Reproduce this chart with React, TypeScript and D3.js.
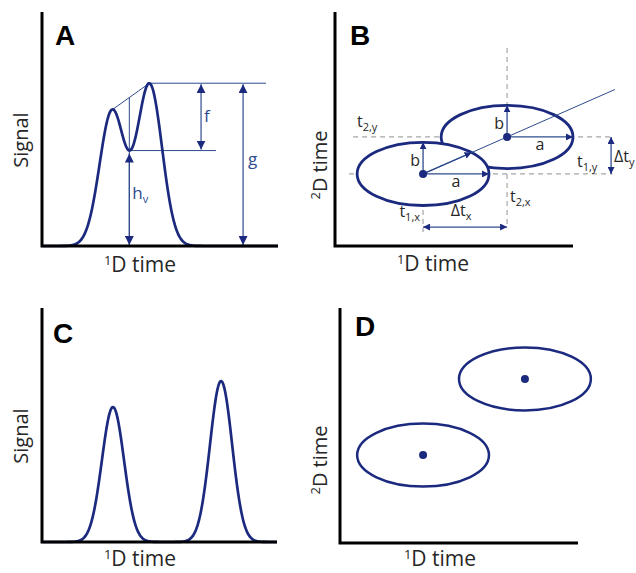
import React from 'react'
import * as d3 from 'd3'

// panel A: two co-eluting peaks (1D time units 0-100, signal units 0-100)
const peakCentersA = [29.7, 45.6]
const peakHeightsA = [57.6, 68.9]
const peakSigmasA = [5.3, 5.3]

// panel C: the same two peaks, resolved
const peakCentersC = [30.2, 76.2]
const peakHeightsC = [57.7, 68.8]
const peakSigmasC = [4.7, 4.7]

// panel B: two spots in the 2D plane (t1 = 1D time, t2 = 2D time), half axes a, b
const spotT1B = [37.0, 72.3]
const spotT2B = [30.8, 46.6]
const spotAB = [27.7, 27.7]
const spotBB = [13.5, 13.5]

// panel D: resolved spots
const spotT1D = [34.9, 77.7]
const spotT2D = [37.4, 69.8]
const spotAD = [27.7, 27.7]
const spotBD = [13.4, 13.4]

const navy = '#1b2a7e'
const thin = '#2e4a8e'
const grey = '#a6a6a6'
const ink = '#262626'
const font = '"Open Sans", "Noto Sans", sans-serif'

function signal(t, centers, heights, sigmas) {
  return d3.sum(centers, (c, i) => heights[i] * Math.exp(-((t - c) ** 2) / (2 * sigmas[i] ** 2)))
}

function sampleCurve(centers, heights, sigmas) {
  return d3.range(0, 100.001, 0.25).map((t) => ({ t, s: signal(t, centers, heights, sigmas) }))
}

function Axes({ x, y }) {
  const [x0, x1] = x.range()
  const [yb, yt] = y.range()
  return <path d={`M${x0},${yt}V${yb}H${x1}`} fill="none" stroke="#000" strokeWidth={3} />
}

function XTitle({ cx, y }) {
  return (
    <text x={cx} y={y} textAnchor="middle" fontFamily={font} fontSize={21} fill={ink}>
      <tspan fontSize={13} dy={-7}>1</tspan>
      <tspan dy={7}>D time</tspan>
    </text>
  )
}

function YTitle({ x, cy, sup, label }) {
  return (
    <text transform={`translate(${x},${cy}) rotate(-90)`} textAnchor="middle" fontFamily={font} fontSize={20} fill={ink}>
      {sup ? <tspan fontSize={13} dy={-7}>{sup}</tspan> : null}
      <tspan dy={sup ? 7 : 0}>{label}</tspan>
    </text>
  )
}

function PanelLetter({ x, y, children }) {
  return (
    <text x={x} y={y} fontFamily='"Liberation Sans", Arial, sans-serif' fontWeight="bold" fontSize={28} fill="#000">
      {children}
    </text>
  )
}

function Sub({ x, y, main, sub, anchor = 'start', fill = ink, size = 16 }) {
  return (
    <text x={x} y={y} textAnchor={anchor} fontFamily={font} fontSize={size} fill={fill}>
      <tspan>{main}</tspan>
      <tspan fontSize={11} dy={4}>{sub}</tspan>
    </text>
  )
}

function PanelA() {
  const x = d3.scaleLinear().domain([0, 100]).range([42, 278])
  const y = d3.scaleLinear().domain([0, 100]).range([246, 12])
  const pts = sampleCurve(peakCentersA, peakHeightsA, peakSigmasA)
  const line = d3.line().x((d) => x(d.t)).y((d) => y(d.s)).curve(d3.curveBasis)

  // local maxima and the valley between them
  const maxima = pts.filter((d, i) => i > 0 && i < pts.length - 1 && d.s > pts[i - 1].s && d.s >= pts[i + 1].s)
  const p1 = maxima[0]
  const p2 = maxima[1]
  const valley = d3.least(pts.filter((d) => d.t > p1.t && d.t < p2.t), (d) => d.s)
  const tangentAt = (t) => p1.s + ((t - p1.t) / (p2.t - p1.t)) * (p2.s - p1.s)

  const fArrowX = 67.4
  const gArrowX = 85.2
  const valleyLineEnd = 73.7
  const topLineEnd = 94.9

  return (
    <g>
      <path d={`M${x(p1.t)},${y(p1.s)}L${x(p2.t)},${y(p2.s)}`} stroke={thin} strokeWidth={1} />
      <path d={`M${x(valley.t)},${y(tangentAt(valley.t))}V${y(0)}`} stroke={thin} strokeWidth={1} />
      <path d={`M${x(p2.t)},${y(p2.s)}H${x(topLineEnd)}`} stroke={thin} strokeWidth={1} />
      <path d={`M${x(valley.t)},${y(valley.s)}H${x(valleyLineEnd)}`} stroke={thin} strokeWidth={1} />
      <line x1={x(valley.t)} x2={x(valley.t)} y1={y(valley.s) + 3} y2={y(0) - 1} stroke={thin} strokeWidth={1.2}
        markerStart="url(#headA)" markerEnd="url(#headA)" />
      <line x1={x(fArrowX)} x2={x(fArrowX)} y1={y(p2.s) + 1} y2={y(valley.s) - 1} stroke={thin} strokeWidth={1.2}
        markerStart="url(#headA)" markerEnd="url(#headA)" />
      <line x1={x(gArrowX)} x2={x(gArrowX)} y1={y(p2.s) + 1} y2={y(0) - 1} stroke={thin} strokeWidth={1.2}
        markerStart="url(#headA)" markerEnd="url(#headA)" />
      <path d={line(pts)} fill="none" stroke={navy} strokeWidth={2.7} />
      <Axes x={x} y={y} />
      <text x={x(fArrowX) + 3} y={122} fontFamily={font} fontSize={17} fill={thin}>f</text>
      <text x={x(gArrowX) + 5} y={165} fontFamily={font} fontSize={17} fill={thin}>g</text>
      <Sub x={x(valley.t) + 3} y={199} main="h" sub="v" fill={thin} size={17} />
      <PanelLetter x={55} y={45}>A</PanelLetter>
      <YTitle x={28} cy={140} label="Signal" />
      <XTitle cx={140} y={272} />
    </g>
  )
}

function PanelC() {
  const x = d3.scaleLinear().domain([0, 100]).range([42, 277])
  const y = d3.scaleLinear().domain([0, 100]).range([542, 308])
  const pts = sampleCurve(peakCentersC, peakHeightsC, peakSigmasC)
  const line = d3.line().x((d) => x(d.t)).y((d) => y(d.s)).curve(d3.curveBasis)
  return (
    <g>
      <path d={line(pts)} fill="none" stroke={navy} strokeWidth={2.7} />
      <Axes x={x} y={y} />
      <PanelLetter x={53} y={343}>C</PanelLetter>
      <YTitle x={28} cy={436} label="Signal" />
      <XTitle cx={140} y={566} />
    </g>
  )
}

function PanelB() {
  const x = d3.scaleLinear().domain([0, 100]).range([335, 573])
  const y = d3.scaleLinear().domain([0, 100]).range([246, 12])
  const [c1x, c2x] = spotT1B.map((v) => x(v))
  const [c1y, c2y] = spotT2B.map((v) => y(v))
  const rx = spotAB.map((a, i) => x(spotT1B[i] + a) - x(spotT1B[i]))
  const ry = spotBB.map((b, i) => y(spotT2B[i]) - y(spotT2B[i] + b))

  // diagonal through both centres, and where it leaves spot 1
  const dx = c2x - c1x
  const dy = c2y - c1y
  const k = 1 / Math.sqrt((dx / rx[0]) ** 2 + (dy / ry[0]) ** 2)
  const diagEnd = 117.6
  const slope = (spotT2B[1] - spotT2B[0]) / (spotT1B[1] - spotT1B[0])

  const dashEnd = 116.5
  const dtyX = 116
  const dtxY = 8.1

  // spot 2 first so that spot 1 sits on top of it
  const order = [1, 0]

  return (
    <g>
      <g stroke={grey} strokeWidth={1.2} strokeDasharray="5,4" fill="none">
        <path d={`M${x(7.6)},${c2y}H${x(dashEnd)}`} />
        <path d={`M${x(5.9)},${c1y}H${x(dashEnd)}`} />
        <path d={`M${c2x},${y(84.6)}V${y(7.7)}`} />
        <path d={`M${c1x},${c1y}V${y(6.0)}`} />
      </g>
      {order.map((i) => (
        <ellipse key={i} cx={x(spotT1B[i])} cy={y(spotT2B[i])} rx={rx[i]} ry={ry[i]} fill="#fff" stroke={navy} strokeWidth={2.8} />
      ))}
      <line x1={c1x} y1={c1y} x2={x(diagEnd)} y2={y(spotT2B[0] + slope * (diagEnd - spotT1B[0]))} stroke={thin} strokeWidth={1} />
      {spotT1B.map((_, i) => (
        <g key={i} stroke={thin} strokeWidth={1.3}>
          <line x1={x(spotT1B[i])} y1={y(spotT2B[i])} x2={x(spotT1B[i]) + rx[i]} y2={y(spotT2B[i])} markerEnd="url(#headB)" />
          <line x1={x(spotT1B[i])} y1={y(spotT2B[i])} x2={x(spotT1B[i])} y2={y(spotT2B[i]) - ry[i]} markerEnd="url(#headB)" />
        </g>
      ))}
      <line x1={c1x} y1={c1y} x2={c1x + k * dx} y2={c1y + k * dy} stroke={thin} strokeWidth={1.3} markerEnd="url(#headB)" />
      <line x1={c1x} y1={y(dtxY)} x2={c2x} y2={y(dtxY)} stroke={thin} strokeWidth={1.3} markerStart="url(#headB)" markerEnd="url(#headB)" />
      <line x1={x(dtyX)} y1={c2y} x2={x(dtyX)} y2={c1y} stroke={thin} strokeWidth={1.3} markerStart="url(#headB)" markerEnd="url(#headB)" />
      {spotT1B.map((_, i) => (
        <circle key={i} cx={x(spotT1B[i])} cy={y(spotT2B[i])} r={4} fill={navy} />
      ))}
      {spotT1B.map((_, i) => (
        <g key={i} fontFamily={font} fontSize={16} fill={ink}>
          <text x={x(spotT1B[i]) - 3} y={y(spotT2B[i]) - 8} textAnchor="end">b</text>
          <text x={x(spotT1B[i]) + rx[i] * 0.5} y={y(spotT2B[i]) + 13} textAnchor="middle">a</text>
        </g>
      ))}
      <Sub x={357} y={127} main="t" sub="2,y" />
      <Sub x={577} y={167} main="t" sub="1,y" />
      <Sub x={614} y={162} main="Δt" sub="y" />
      <Sub x={510} y={202} main="t" sub="2,x" />
      <Sub x={420} y={217} main="t" sub="1,x" anchor="end" />
      <Sub x={(c1x + c2x) / 2 - 4} y={216} main="Δt" sub="x" anchor="middle" />
      <Axes x={x} y={y} />
      <PanelLetter x={350} y={45}>B</PanelLetter>
      <YTitle x={327} cy={165} sup="2" label="D time" />
      <XTitle cx={433} y={271} />
    </g>
  )
}

function PanelD() {
  const x = d3.scaleLinear().domain([0, 100]).range([340, 578])
  const y = d3.scaleLinear().domain([0, 100]).range([543, 308])
  return (
    <g>
      {spotT1D.map((_, i) => (
        <g key={i}>
          <ellipse cx={x(spotT1D[i])} cy={y(spotT2D[i])}
            rx={x(spotT1D[i] + spotAD[i]) - x(spotT1D[i])} ry={y(spotT2D[i]) - y(spotT2D[i] + spotBD[i])}
            fill="none" stroke={navy} strokeWidth={2.5} />
          <circle cx={x(spotT1D[i])} cy={y(spotT2D[i])} r={4} fill={navy} />
        </g>
      ))}
      <Axes x={x} y={y} />
      <PanelLetter x={355} y={336}>D</PanelLetter>
      <YTitle x={327} cy={460} sup="2" label="D time" />
      <XTitle cx={440} y={566} />
    </g>
  )
}

export default function App() {
  return (
    <svg width={636} height={573} style={{ position: 'absolute', left: 0, top: 0, background: '#fff' }}>
      <defs>
        <marker id="headA" viewBox="0 0 10 10" refX="10" refY="5" markerWidth="9" markerHeight="9"
          markerUnits="userSpaceOnUse" orient="auto-start-reverse">
          <path d="M0,0L10,5L0,10z" fill={navy} />
        </marker>
        <marker id="headB" viewBox="0 0 10 10" refX="10" refY="5" markerWidth="7" markerHeight="7"
          markerUnits="userSpaceOnUse" orient="auto-start-reverse">
          <path d="M0,0L10,5L0,10z" fill={navy} />
        </marker>
      </defs>
      <rect width={636} height={573} fill="#fff" />
      <PanelA />
      <PanelB />
      <PanelC />
      <PanelD />
    </svg>
  )
}
